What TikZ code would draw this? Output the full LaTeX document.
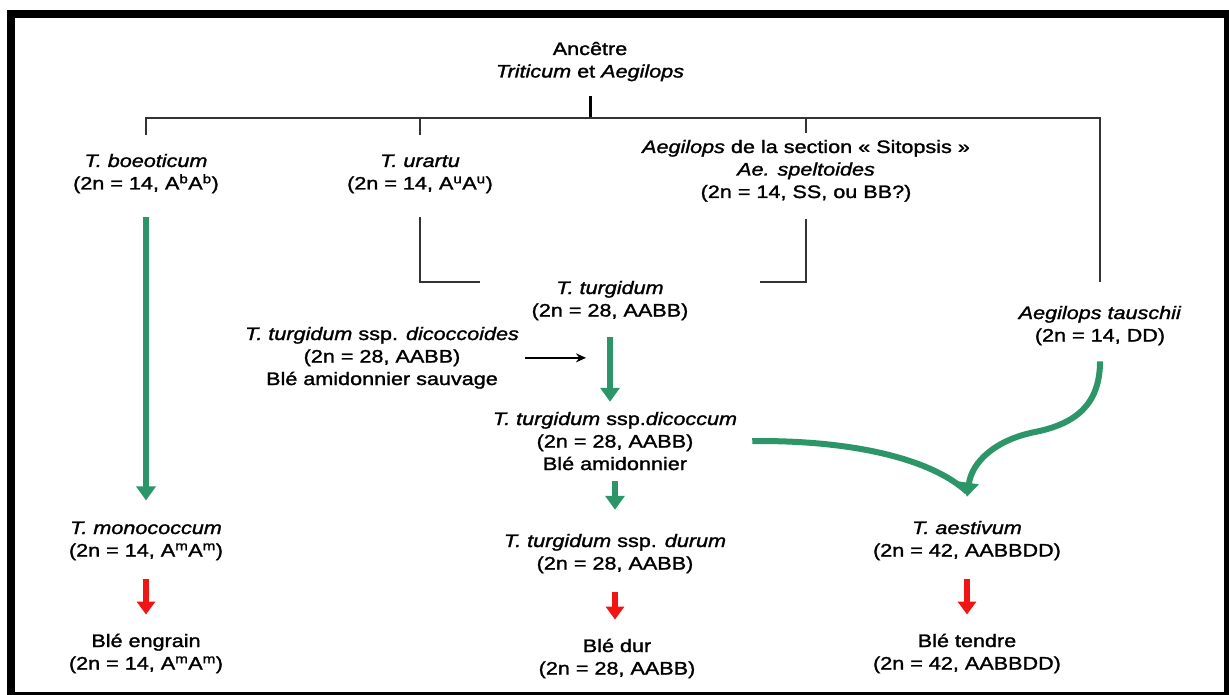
\documentclass[tikz,border=0pt]{standalone}
\usepackage{fontspec}
\setmainfont{Liberation Sans}[FakeStretch=1.2,FakeBold=1.5]
\usetikzlibrary{arrows.meta}
\definecolor{wgreen}{RGB}{44,150,104}
\definecolor{wred}{RGB}{240,20,20}
\newcommand\lblsize{\fontsize{18}{22.5}\selectfont}
\tikzset{
  lbl/.style={align=center, inner sep=0pt, anchor=base, font=\lblsize},
  tree/.style={draw=black!80, line width=1.6pt},
  stem/.style={draw=black, line width=3pt},
  greenarrow/.style={draw=wgreen, line width=6pt, -{Triangle[width=19pt,length=14pt]}},
  redarrow/.style={draw=wred, line width=6pt, -{Triangle[width=18pt,length=13pt]}},
  blackarrow/.style={draw=black, line width=1.6pt, -{Stealth[length=10pt,width=9pt]}}
}
\begin{document}
\begin{tikzpicture}[x=1pt,y=-1pt]
  \useasboundingbox (0,0) rectangle (1229,695);
  \fill[black] (7,10) rectangle (1229,695);
  \fill[white] (15,18) rectangle (1224,692);

  \node[lbl] (anc) at (590,77.5) {Ancêtre\\\textit{Triticum} et \textit{Aegilops}};
  \node[lbl] (boeo) at (146,189.5) {\textit{T. boeoticum}\\(2n = 14, A\textsuperscript{b}A\textsuperscript{b})};
  \node[lbl] (ura) at (420,189.5) {\textit{T. urartu}\\(2n = 14, A\textsuperscript{u}A\textsuperscript{u})};
  \node[lbl] (sito) at (806,198) {\textit{Aegilops} de la section « Sitopsis »\\\textit{Ae. speltoides}\\(2n = 14, SS, ou BB?)};
  \node[lbl] (turg) at (610,316.5) {\textit{T. turgidum}\\(2n = 28, AABB)};
  \node[lbl] (dicoi) at (382,385) {\textit{T. turgidum} ssp. \textit{dicoccoides}\\(2n = 28, AABB)\\Blé amidonnier sauvage};
  \node[lbl] (dicum) at (615,470) {\textit{T. turgidum} ssp.\textit{dicoccum}\\(2n = 28, AABB)\\Blé amidonnier};
  \node[lbl] (duru) at (615,569.5) {\textit{T. turgidum} ssp. \textit{durum}\\(2n = 28, AABB)};
  \node[lbl] (dur) at (617,674.5) {Blé dur\\(2n = 28, AABB)};
  \node[lbl] (mono) at (146,556.5) {\textit{T. monococcum}\\(2n = 14, A\textsuperscript{m}A\textsuperscript{m})};
  \node[lbl] (engr) at (146,669.5) {Blé engrain\\(2n = 14, A\textsuperscript{m}A\textsuperscript{m})};
  \node[lbl] (taus) at (1100,341.5) {\textit{Aegilops tauschii}\\(2n = 14, DD)};
  \node[lbl] (aest) at (967,556.5) {\textit{T. aestivum}\\(2n = 42, AABBDD)};
  \node[lbl] (tend) at (967,669.5) {Blé tendre\\(2n = 42, AABBDD)};

  \coordinate (bus) at (590,118);
  \coordinate (jl) at (480,282);
  \coordinate (jr) at (760,282);

  \draw[stem, shorten <=15pt] (anc.south) -- (bus);
  \draw[tree, shorten <=19pt, shorten >=24pt] (boeo.north) |- (bus) -| (taus.north);
  \draw[tree, shorten <=19pt] (ura.north) -- (ura.north |- bus);
  \draw[tree, shorten <=7pt] (sito.north) -- (sito.north |- bus);
  \draw[tree, shorten <=24pt] (ura.south) |- (jl);
  \draw[tree, shorten <=17pt] (sito.south) |- (jr);

  \draw[blackarrow, shorten <=6pt, shorten >=24pt] (dicoi.east) -- (dicoi.east -| turg.south);

  \draw[greenarrow, shorten <=24pt, shorten >=21pt] (boeo.south) -- (mono.north);
  \draw[greenarrow, shorten <=17pt, shorten >=10pt] (turg.south) -- (turg.south |- dicum.north);
  \draw[greenarrow, shorten <=11pt, shorten >=24pt] (dicum.south) -- (dicum.south |- duru.north);
  \draw[greenarrow, -] ([xshift=15pt]dicum.east) .. controls (850,440) and (930,458) .. ([yshift=29pt]aest.north);
  \draw[greenarrow] ([yshift=-16pt]taus.south) .. controls (1100,405) and (1075,424) .. (1035,432)
    .. controls (995,440) and (972,462) .. ([yshift=24pt]aest.north);

  \foreach \a/\b in {mono/engr,duru/dur,aest/tend}
    \draw[redarrow, shorten <=19pt, shorten >=19pt] (\a.south) -- (\a.south |- \b.north);
\end{tikzpicture}
\end{document}
